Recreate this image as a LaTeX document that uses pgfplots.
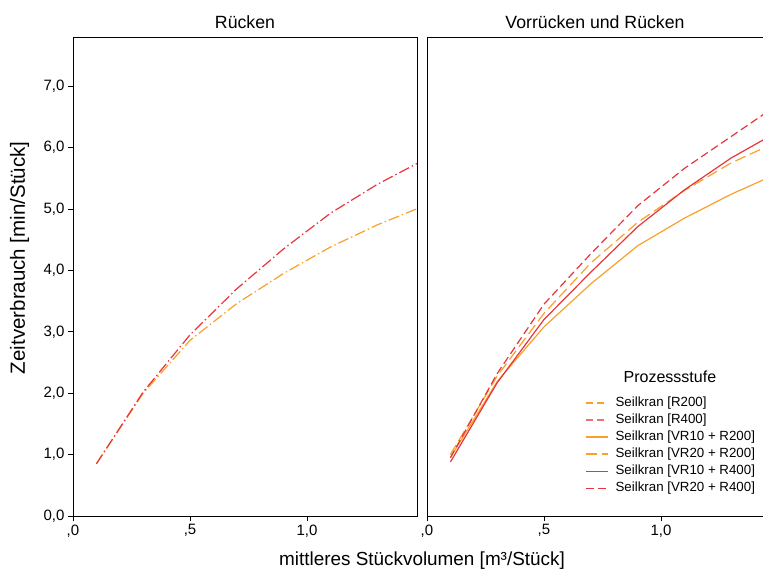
\documentclass[border=0pt]{standalone}
\usepackage{fontspec}
\setmainfont{Liberation Sans}
\usepackage{pgfplots}
\pgfplotsset{compat=1.18}
\definecolor{orng}{RGB}{248,160,42}
\definecolor{rd}{RGB}{232,52,60}

\pgfplotsset{
  panel/.style={
    scale only axis, height=479pt,
    xmin=0, xmax=1.47, ymin=0, ymax=7.8,
    axis line style={black, line width=0.9pt},
    tick align=outside, major tick length=5pt,
    tick style={black, line width=0.9pt},
    xtick pos=bottom, ytick pos=left,
    xtick={0,0.5,1}, xticklabels={{,0},{,5},{1,0}},
    tick label style={font=\fontsize{15}{17}\selectfont},
    title style={font=\fontsize{17.7}{20}\selectfont, yshift=-1pt},
  },
  ln/.style={line width=1.2pt},
  legend image code/.code={\draw[#1, line width=1.8pt] (0pt,0pt) -- (22pt,0pt); \path (27pt,0pt);},
}

\begin{document}
\begin{tikzpicture}
\path[use as bounding box] (-73pt,-55pt) rectangle (690pt,516pt);

\begin{axis}[panel, at={(0pt,0pt)}, width=344pt,
  title={Rücken},
  ytick={0,1,2,3,4,5,6,7},
  yticklabels={{0,0},{1,0},{2,0},{3,0},{4,0},{5,0},{6,0},{7,0}},
  ylabel={Zeitverbrauch [min/Stück]},
  ylabel style={font=\fontsize{20.5}{22}\selectfont, at={(axis description cs:-0.155,0.539)}, anchor=center},
]
% Seilkran [R200]
\addplot[ln, orng, dash pattern=on 11pt off 3pt on 1.5pt off 3pt] coordinates {
  (0.1,0.85) (0.3,2.00) (0.5,2.86) (0.7,3.46) (0.9,3.95) (1.1,4.38) (1.3,4.74) (1.5,5.05)};
% Seilkran [R400]
\addplot[ln, rd, dash pattern=on 11pt off 3pt on 1.5pt off 3pt] coordinates {
  (0.1,0.85) (0.3,2.02) (0.5,2.95) (0.7,3.70) (0.9,4.35) (1.1,4.93) (1.3,5.40) (1.5,5.80)};
\end{axis}

\begin{axis}[panel, at={(354pt,0pt)}, width=336pt, xmax=1.436,
  title={Vorrücken und Rücken},
  ytick=\empty,
  legend cell align=left,
  legend style={at={(rel axis cs:0.470,0.253)}, anchor=north west, draw=none, fill=none,
    font=\fontsize{13.3}{15}\selectfont, row sep=1.1pt, inner sep=0pt,
    nodes={inner sep=2pt, text height=9pt, text depth=3pt}},
]
\addlegendimage{ln, orng, dash pattern=on 7pt off 4pt}
\addlegendentry{Seilkran [R200]}
\addlegendimage{ln, rd!70, dash pattern=on 7pt off 4pt}
\addlegendentry{Seilkran [R400]}
% Seilkran [VR10 + R200]
\addplot[ln, orng] coordinates {
  (0.1,0.95) (0.3,2.19) (0.5,3.08) (0.7,3.78) (0.9,4.40) (1.1,4.85) (1.3,5.24) (1.5,5.58)};
\addlegendentry{Seilkran [VR10 + R200]}
% Seilkran [VR20 + R200]
\addplot[ln, orng, dash pattern=on 11pt off 5pt] coordinates {
  (0.1,1.00) (0.3,2.28) (0.5,3.30) (0.7,4.12) (0.9,4.78) (1.1,5.30) (1.3,5.75) (1.5,6.10)};
\addlegendentry{Seilkran [VR20 + R200]}
% Seilkran [VR10 + R400]
\addplot[ln, rd] coordinates {
  (0.1,0.88) (0.3,2.17) (0.5,3.20) (0.7,3.97) (0.9,4.71) (1.1,5.31) (1.3,5.83) (1.5,6.26)};
\addlegendentry{Seilkran [VR10 + R400]}
% Seilkran [VR20 + R400]
\addplot[ln, rd, dash pattern=on 8pt off 4pt] coordinates {
  (0.1,0.95) (0.3,2.32) (0.5,3.45) (0.7,4.27) (0.9,5.05) (1.1,5.66) (1.3,6.18) (1.5,6.70)};
\addlegendentry{Seilkran [VR20 + R400]}
\node[font=\fontsize{16}{18}\selectfont] at (rel axis cs:0.723,0.29) {Prozessstufe};
\end{axis}

\node[font=\fontsize{18.9}{21}\selectfont] at (349pt,-45pt) {mittleres Stückvolumen [m³/Stück]};
\end{tikzpicture}
\end{document}
